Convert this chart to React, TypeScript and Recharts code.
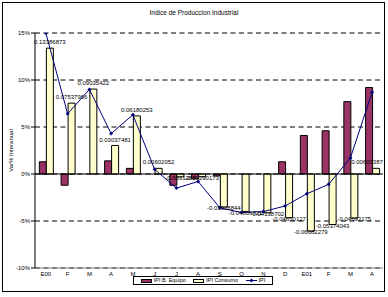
import React from 'react';
import {
  ComposedChart,
  Bar,
  Line,
  XAxis,
  YAxis,
  CartesianGrid,
  ReferenceLine,
  Legend,
  LabelList,
} from 'recharts';

const categories = ['E00', 'F', 'M', 'A', 'M', 'J', 'J', 'A', 'S', 'O', 'N', 'D', 'E01', 'F', 'M', 'A'];
// Var% interanual, serie morada (%)
const ipiBienesEquipo = [1.3, -1.2, 0, 1.4, 0.6, 0, -1.2, -0.5, -0.2, 0, 0, 1.3, 4.1, 4.6, 7.7, 9.2];
// Var interanual, serie crema (tanto por uno, como en las etiquetas)
const ipiBienesConsumo = [
  0.13386873, 0.07537966, 0.09035422, 0.03037481, 0.06180253, 0.00602052, -0.0031287, -0.00290173,
  -0.03528844, -0.04006721, -0.04138702, -0.04650127, -0.06082279, -0.05374043, -0.04693175, 0.00603387,
];
// IPI general (%)
const ipiGeneral = [15.0, 6.4, 9.0, 4.3, 6.3, 0.5, -1.5, -0.8, -3.6, -4.1, -4.0, -3.4, -2.1, -1.1, 1.7, 8.7];
const yTicks = [-10, -5, 0, 5, 10, 15];
const seriesNames = ['IPI B. Equipo', 'IPI Consumo', 'IPI'];

const data = categories.map((cat, i) => ({
  cat,
  equipo: ipiBienesEquipo[i],
  consumo: ipiBienesConsumo[i] * 100,
  consumoRaw: ipiBienesConsumo[i],
  ipi: ipiGeneral[i],
}));

const FONT = '"Liberation Sans", Arial, sans-serif';
const PURPLE = '#993366';
const CREAM = '#FFFFCC';
const NAVY = '#000080';

const CreamLabel = (props: any) => {
  const vb = props.viewBox ?? props;
  const { x, y, width, height } = vb;
  const v = props.value;
  if (x == null) return null;
  const top = Math.min(y, y + height);
  const bottom = Math.max(y, y + height);
  const cx = Math.min(x + width / 2, 367);
  const cy = v >= 0 ? top - 6 : bottom + 1;
  return (
    <text x={cx} y={cy} dy="0.35em" textAnchor="middle" fontSize={6} fontFamily={FONT} fill="#000">
      {String(v)}
    </text>
  );
};

const Diamond = (p: any) => {
  const { cx, cy } = p;
  if (cx == null || cy == null) return null;
  const r = 2;
  return <path d={`M${cx},${cy - r}L${cx + r},${cy}L${cx},${cy + r}L${cx - r},${cy}Z`} fill={NAVY} stroke="none" />;
};

const LegendContent = (props: any) => {
  const payload = [...(props.payload ?? [])].sort(
    (a: any, b: any) => seriesNames.indexOf(a.value) - seriesNames.indexOf(b.value)
  );
  return (
    <div
      style={{
        border: '1px solid #000',
        background: '#fff',
        height: 7,
        display: 'flex',
        alignItems: 'center',
        justifyContent: 'space-around',
        fontFamily: FONT,
        fontSize: 5.5,
        lineHeight: '7px',
        padding: '0 3px',
        boxSizing: 'content-box',
        whiteSpace: 'nowrap',
      }}
    >
      {payload.map((p: any, i: number) => (
        <span key={i} style={{ display: 'flex', alignItems: 'center' }}>
          {p.type === 'line' ? (
            <svg width={11} height={5} style={{ marginRight: 2 }}>
              <line x1={0} y1={2.5} x2={11} y2={2.5} stroke={NAVY} strokeWidth={1} />
              <path d="M5.5,0.5L7.5,2.5L5.5,4.5L3.5,2.5Z" fill={NAVY} />
            </svg>
          ) : (
            <svg width={11} height={4} style={{ marginRight: 2 }}>
              <rect x={0.5} y={0.5} width={10} height={3} fill={p.payload?.fill ?? p.color} stroke="#000" strokeWidth={1} />
            </svg>
          )}
          <span>{p.value}</span>
        </span>
      ))}
    </div>
  );
};

export default function App() {
  return (
    <div
      style={{
        position: 'absolute',
        left: 0,
        top: 0,
        width: 388,
        height: 297,
        background: '#fff',
        fontFamily: FONT,
      }}
    >
      <div
        style={{
          position: 'absolute',
          left: 2,
          top: 2,
          width: 383,
          height: 290,
          border: '1px solid #000',
          boxSizing: 'border-box',
        }}
      />
      <div
        style={{
          position: 'absolute',
          left: 0,
          top: 8,
          width: 388,
          textAlign: 'center',
          fontSize: 6.5,
          lineHeight: '9px',
          color: '#000',
        }}
      >
        Indice de Produccion Industrial
      </div>
      <div style={{ position: 'absolute', left: 0, top: 0 }}>
        <ComposedChart
          width={388}
          height={297}
          data={data}
          margin={{ top: 33, right: 5, bottom: 0, left: 0 }}
          barCategoryGap="20%"
          barGap={0}
        >
          <CartesianGrid vertical={false} stroke="#000" strokeDasharray="5 3.5" />
          <XAxis
            dataKey="cat"
            height={29}
            interval={0}
            tickLine={false}
            tickSize={0}
            tickMargin={4}
            axisLine={{ stroke: '#808080' }}
            tick={{ fontSize: 6, fill: '#000', fontFamily: FONT }}
          />
          <XAxis
            xAxisId="top"
            dataKey="cat"
            orientation="top"
            height={0}
            tick={false}
            tickLine={false}
            axisLine={{ stroke: '#808080' }}
          />
          <YAxis
            width={35}
            domain={[-10, 15]}
            ticks={yTicks}
            allowDataOverflow
            tickFormatter={(v: number) => `${v}%`}
            axisLine={{ stroke: '#000' }}
            tickLine={{ stroke: '#000' }}
            tickSize={4}
            tickMargin={1}
            tick={{ fontSize: 6, fill: '#000', fontFamily: FONT }}
            label={{
              content: (lp: any) => {
                const vb = lp.viewBox ?? { x: 0, y: 33, width: 35, height: 235 };
                const lx = vb.x + 11;
                const ly = vb.y + vb.height / 2;
                return (
                  <text
                    x={lx}
                    y={ly}
                    transform={`rotate(-90, ${lx}, ${ly})`}
                    textAnchor="middle"
                    dy="0.35em"
                    fontSize={6}
                    fontFamily={FONT}
                    fill="#000"
                  >
                    Var% Interanual
                  </text>
                );
              },
            }}
          />
          <YAxis
            yAxisId="r"
            orientation="right"
            width={0}
            domain={[-10, 15]}
            tick={false}
            tickLine={false}
            axisLine={{ stroke: '#808080' }}
          />
          <ReferenceLine y={0} stroke="#000" />
          <Bar dataKey="equipo" name={seriesNames[0]} fill={PURPLE} stroke="#000" strokeWidth={1} isAnimationActive={false} />
          <Bar dataKey="consumo" name={seriesNames[1]} fill={CREAM} stroke="#000" strokeWidth={1} isAnimationActive={false}>
            <LabelList dataKey="consumoRaw" content={CreamLabel} />
          </Bar>
          <Line
            dataKey="ipi"
            name={seriesNames[2]}
            type="linear"
            stroke={NAVY}
            strokeWidth={1}
            dot={Diamond}
            activeDot={false}
            isAnimationActive={false}
          />
          <Legend
            verticalAlign="middle"
            align="center"
            layout="horizontal"
            wrapperStyle={{ left: 133, top: 276, width: 140, height: 9 }}
            content={LegendContent}
          />
        </ComposedChart>
      </div>
    </div>
  );
}
